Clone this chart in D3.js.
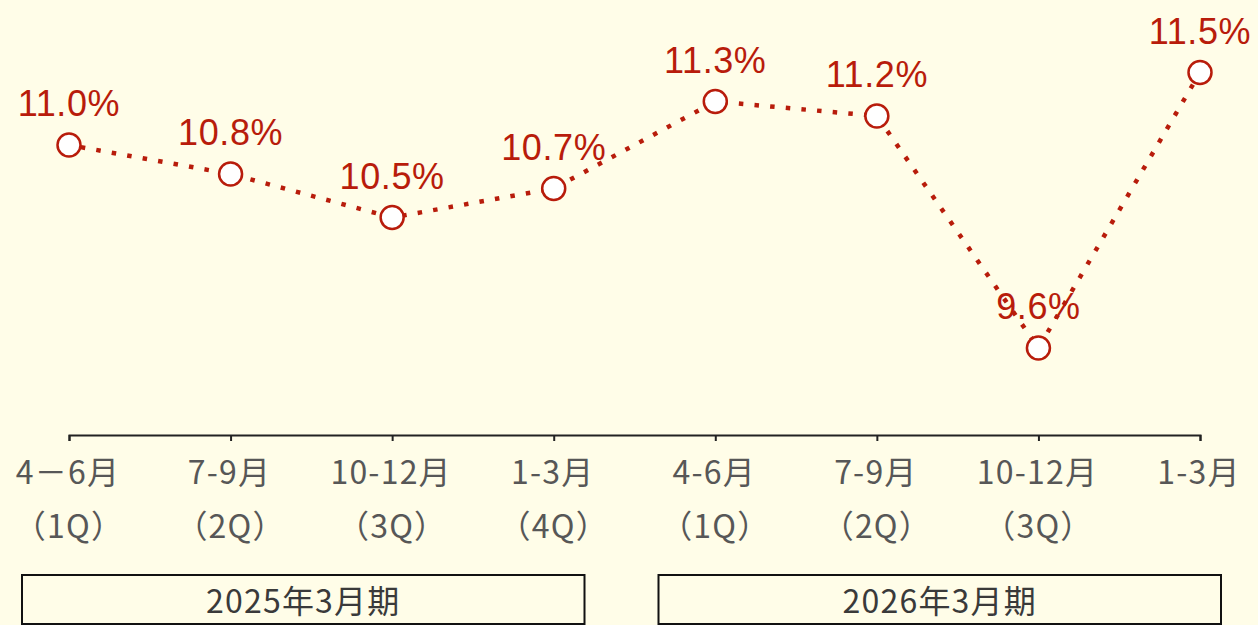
<!DOCTYPE html>
<html>
<head>
<meta charset="utf-8">
<script src="https://cdn.jsdelivr.net/npm/d3@7"></script>
<style>
  html, body { margin: 0; padding: 0; background: #fffde8; }
  svg { display: block; }
</style>
</head>
<body>
<svg id="chart" width="1258" height="625"></svg>
<script>
// quarter labels (two lines each) and margin values (%)
const months = ['4－6月', '7-9月', '10-12月', '1-3月', '4-6月', '7-9月', '10-12月', '1-3月']
const quarters = ['（1Q）', '（2Q）', '（3Q）', '（4Q）', '（1Q）', '（2Q）', '（3Q）', '']
const values = [11.0, 10.8, 10.5, 10.7, 11.3, 11.2, 9.6, 11.5]
const periods = ['2025年3月期', '2026年3月期']

const red = '#b81c0b'
const svg = d3.select('#chart')

const x = d3.scalePoint()
  .domain(d3.range(values.length))
  .range([69, 1200])

const y = d3.scaleLinear()
  .domain([9, 12])
  .range([435, 0])

// x axis with downward ticks
const axis = svg.append('g')
  .attr('transform', 'translate(0,' + y(9) + ')')
  .call(d3.axisBottom(x).tickSize(6).tickFormat(''))
axis.select('.domain').attr('stroke', '#222').attr('stroke-width', 2)
axis.selectAll('.tick line').attr('stroke', '#222').attr('stroke-width', 2)

const labels = svg.append('g')
  .attr('font-family', '"Noto Sans CJK JP", "Noto Sans", sans-serif')
  .attr('font-size', 32)
  .attr('letter-spacing', 1.2)
  .attr('fill', '#575757')
  .attr('text-anchor', 'middle')

labels.selectAll('.m')
  .data(months)
  .enter()
  .append('text')
  .attr('class', 'm')
  .attr('x', (d, i) => x(i) - 1)
  .attr('y', 484)
  .text(d => d)

labels.selectAll('.q')
  .data(quarters)
  .enter()
  .append('text')
  .attr('class', 'q')
  .attr('x', (d, i) => x(i))
  .attr('y', 538)
  .text(d => d)

// fiscal year boxes
const boxLeft = x(0) - 47
const boxRight = x(values.length - 1) + 21
const gap = 74
const boxW = (boxRight - boxLeft - gap) / periods.length
const boxes = svg.append('g')
  .selectAll('g')
  .data(periods)
  .enter()
  .append('g')
  .attr('transform', (d, i) => 'translate(' + (boxLeft + i * (boxW + gap)) + ',575)')
boxes.append('rect')
  .attr('width', boxW)
  .attr('height', 49)
  .attr('fill', 'none')
  .attr('stroke', '#111')
  .attr('stroke-width', 2)
boxes.append('text')
  .attr('x', boxW / 2)
  .attr('y', 38)
  .attr('text-anchor', 'middle')
  .attr('font-family', '"Noto Sans CJK JP", "Noto Sans", sans-serif')
  .attr('font-size', 32)
  .attr('letter-spacing', 1.2)
  .attr('fill', '#3a3a3a')
  .text(d => d)

// value labels (drawn under the line)
svg.append('g')
  .selectAll('text')
  .data(values)
  .enter()
  .append('text')
  .attr('x', (d, i) => x(i))
  .attr('y', d => y(d) - 29)
  .attr('text-anchor', 'middle')
  .attr('font-family', '"Liberation Sans", Arial, sans-serif')
  .attr('font-size', 36)
  .attr('letter-spacing', 0.6)
  .attr('fill', red)
  .text(d => d.toFixed(1) + '%')

// dotted line
const line = d3.line()
  .x((d, i) => x(i))
  .y(d => y(d))

svg.append('path')
  .datum(values)
  .attr('d', line)
  .attr('fill', 'none')
  .attr('stroke', red)
  .attr('stroke-width', 4.5)
  .attr('stroke-dasharray', '4.5 11.2')
  .attr('stroke-dashoffset', -12)

svg.append('g')
  .selectAll('circle')
  .data(values)
  .enter()
  .append('circle')
  .attr('cx', (d, i) => x(i))
  .attr('cy', d => y(d))
  .attr('r', 11.5)
  .attr('fill', '#fff')
  .attr('stroke', red)
  .attr('stroke-width', 2.5)
</script>
</body>
</html>
